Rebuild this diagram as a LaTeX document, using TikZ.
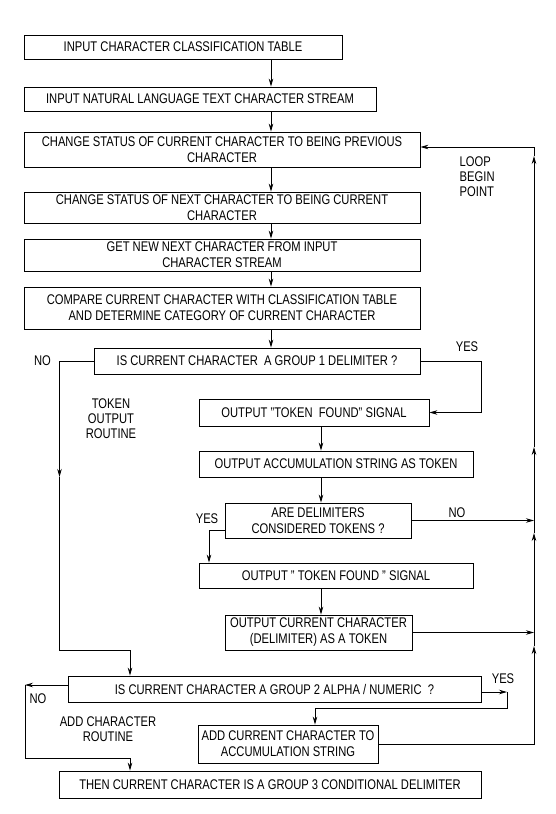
\documentclass[tikz,border=0pt]{standalone}
\usepackage{fontspec}
\setmainfont{Liberation Sans}[FakeStretch=0.8]
\usetikzlibrary{arrows.meta}
\tikzset{
	flow box/.style={draw,rectangle,inner sep=0pt,align=center,font=\fontsize{14}{16}\selectfont},
	side text/.style={align=center,font=\fontsize{14}{15}\selectfont},
	yes no/.style={font=\fontsize{14}{15}\selectfont}
}

\begin{document}
\begin{tikzpicture}[x=1pt,y=-1pt,->,>={Stealth[length=8pt,width=4.5pt]},line width=0.8pt]
	\useasboundingbox (0,0) rectangle (555,814);
	% boxes
	\node [flow box,minimum width=318,minimum height=24] (b1) at (183,47) {INPUT CHARACTER CLASSIFICATION TABLE};
	\node [flow box,minimum width=352,minimum height=24] (b2) at (200,99) {INPUT NATURAL LANGUAGE TEXT CHARACTER STREAM};
	\node [flow box,minimum width=396,minimum height=35] (b3) at (222,149.5) {CHANGE STATUS OF CURRENT CHARACTER TO BEING PREVIOUS\\CHARACTER};
	\node [flow box,minimum width=396,minimum height=31] (b4) at (222,207.5) {CHANGE STATUS OF NEXT CHARACTER TO BEING CURRENT\\CHARACTER};
	\node [flow box,minimum width=396,minimum height=32] (b5) at (222,255) {GET NEW NEXT CHARACTER FROM INPUT\\CHARACTER STREAM};
	\node [flow box,minimum width=396,minimum height=42] (b6) at (222,308) {COMPARE CURRENT CHARACTER WITH CLASSIFICATION TABLE\\AND DETERMINE CATEGORY OF CURRENT CHARACTER};
	\node [flow box,minimum width=326,minimum height=26] (b7) at (257,361) {IS CURRENT CHARACTER\ \ A GROUP 1 DELIMITER ?};
	\node [flow box,minimum width=230,minimum height=27] (b8) at (314,412.5) {OUTPUT "TOKEN\ \ FOUND" SIGNAL};
	\node [flow box,minimum width=274,minimum height=26] (b9) at (336,464) {OUTPUT ACCUMULATION STRING AS TOKEN};
	\node [flow box,minimum width=186,minimum height=35] (b10) at (318,520.5) {ARE DELIMITERS\\CONSIDERED TOKENS ?};
	\node [flow box,minimum width=274,minimum height=25] (b11) at (336,575.5) {OUTPUT " TOKEN FOUND " SIGNAL};
	\node [flow box,minimum width=187,minimum height=35] (b12) at (318.5,632.5) {OUTPUT CURRENT CHARACTER\\(DELIMITER) AS A TOKEN};
	\node [flow box,minimum width=413,minimum height=26] (b13) at (274.5,689) {IS CURRENT CHARACTER A GROUP 2 ALPHA / NUMERIC\ \ ?};
	\node [flow box,minimum width=180,minimum height=38] (b14) at (288,744) {ADD CURRENT CHARACTER TO\\ACCUMULATION STRING};
	\node [flow box,minimum width=422,minimum height=27] (b15) at (270,784.5) {THEN CURRENT CHARACTER IS A GROUP 3 CONDITIONAL DELIMITER};

	% labels
	\node [side text,align=left,anchor=west] (loopbegin) at (456,177) {LOOP\\BEGIN\\POINT};
	\node [side text] (tokenroutine) at (111,419) {TOKEN\\OUTPUT\\ROUTINE};
	\node [side text] (addroutine) at (108,729) {ADD CHARACTER\\ROUTINE};
	\node [yes no] (no1) at (42.5,361) {NO};
	\node [yes no] (yes1) at (467,347) {YES};
	\node [yes no] (no2) at (457,513) {NO};
	\node [yes no] (yes2) at (207,519) {YES};
	\node [yes no] (no3) at (38,699) {NO};
	\node [yes no] (yes3) at (503,679) {YES};

	% helper points
	\coordinate (spine) at (271,0);
	\coordinate (col) at (321,0);
	\coordinate (rail) at (534,0);
	\coordinate (up1) at (534,646);
	\coordinate (up2) at (534,533);
	\coordinate (up3) at (534,447);
	\coordinate (up4) at (534,156);
	\coordinate (loop) at (534,147);
	\coordinate (yesA) at (481,361);
	\coordinate (noA) at (59.5,477);
	\coordinate (noB) at (130,650);
	\coordinate (yesB) at (209,530);
	\coordinate (noC) at (25,685);
	\coordinate (noD) at (130,758);
	\coordinate (yesC) at (507,692);
	\coordinate (yesD) at (315,708);

	% main column
	\draw (b1.south -| spine) -- (b2.north -| spine);
	\draw (b2.south -| spine) -- (b3.north -| spine);
	\draw (b3.south -| spine) -- (b4.north -| spine);
	\draw (b4.south -| spine) -- (b5.north -| spine);
	\draw (b5.south -| spine) -- (b6.north -| spine);
	\draw (b6.south -| spine) -- (b7.north -| spine);

	% token output routine
	\draw (b7.east) -- (yesA) |- (b8.east);
	\draw (b8.south -| col) -- (b9.north -| col);
	\draw (b9.south -| col) -- (b10.north -| col);
	\draw [-] (b10.west |- yesB) -- (yesB);
	\draw (yesB) -- (yesB |- b11.north);
	\draw (b11.south -| col) -- (b12.north -| col);
	\draw (b10.east) -- (b10.east -| rail);
	\draw (b12.east) -- (b12.east -| rail);

	% no branch of group 1
	\draw (b7.west) -| (noA);
	\draw (noA) |- (noB) -- (noB |- b13.north);

	% add character routine
	\draw (b13.west |- noC) -- (noC);
	\draw (noC) |- (noD) -- (noD |- b15.north);
	\draw (b13.east |- yesC) -- (yesC);
	\draw (yesC) |- (yesD) -- (yesD |- b14.north);

	% loop back
	\draw (b14.east) -| (up1);
	\draw (up1) -- (up2);
	\draw (up2) -- (up3);
	\draw (up3) -- (up4);
	\draw (up4) -- (loop) -- (b3.east |- loop);
\end{tikzpicture}
\end{document}
